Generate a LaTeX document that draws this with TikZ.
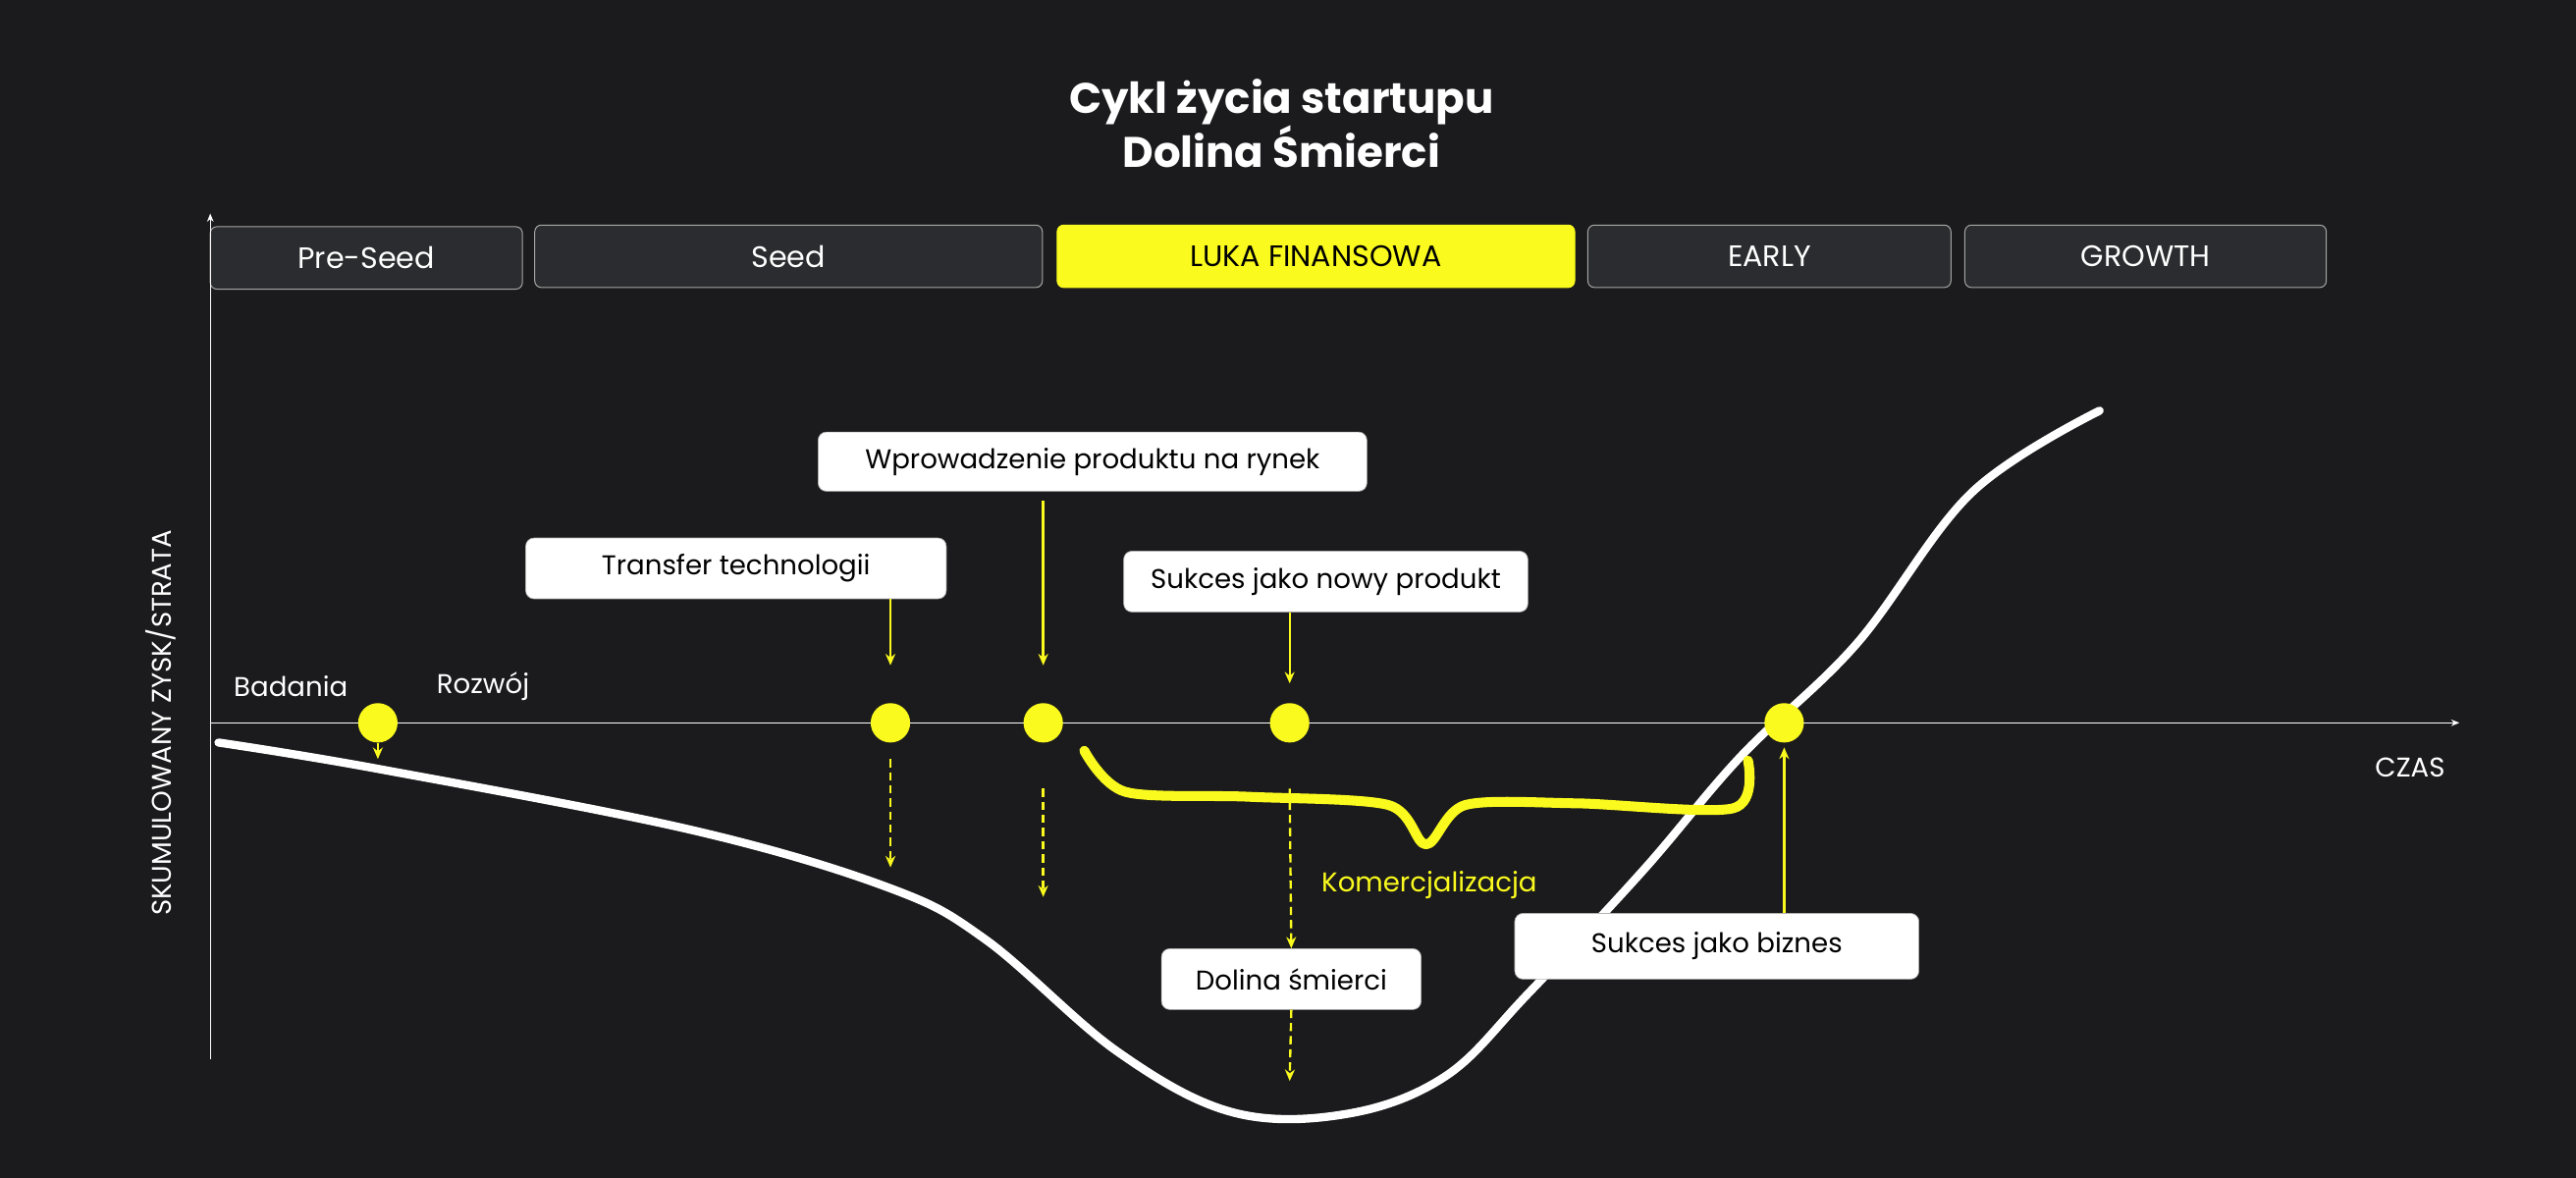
\documentclass[tikz,border=0pt]{standalone}
\usepackage{fontspec}
\setmainfont{Poppins}
\usetikzlibrary{arrows.meta}
\definecolor{bg}{HTML}{1B1B1D}
\definecolor{stg}{HTML}{2B2C2F}
\definecolor{yel}{HTML}{FAFA1E}
\begin{document}
\begin{tikzpicture}[x=1pt,y=-1pt,
 stage/.style={draw=gray!70,fill=stg,rounded corners=4pt,minimum height=38pt,text=white,font=\fontsize{18}{20}\selectfont,line width=0.6pt},
 lbl/.style={fill=white,draw=gray!60,rounded corners=5pt,minimum height=37pt,font=\fontsize{16.5}{18}\selectfont,text=black},
 yarr/.style={yel,line width=1.4pt,-{Stealth[length=7pt,width=6pt]}},
 ydash/.style={yarr,dash pattern=on 5pt off 3pt},
 dot/.style={circle,fill=yel,minimum size=24pt,inner sep=0pt}]
\fill[bg] (0,0) rectangle (1568,717);
\useasboundingbox (0,0) rectangle (1568,717);
\node[text=white,font=\fontsize{26}{33}\selectfont\bfseries,align=center] (title) at (780,75) {Cykl życia startupu\\Dolina Śmierci};
\node[stage,minimum width=190pt] (s1) at (223,157) {Pre-Seed};
\node[stage,minimum width=309pt] (s2) at (480,156) {Seed};
\node[stage,minimum width=315pt,fill=yel,draw=yel,text=black] (s3) at (801,156) {LUKA FINANSOWA};
\node[stage,minimum width=221pt] (s4) at (1077,156) {EARLY};
\node[stage,minimum width=220pt] (s5) at (1306,156) {GROWTH};
\coordinate (o) at (128,645); \coordinate (yt) at (128,130);
\coordinate (xo) at (128,440); \coordinate (xt) at (1497,440);
\draw[white,line width=0.6pt,-{Stealth[length=5pt,width=4pt]}] (o) -- (yt);
\draw[white,line width=0.6pt,-{Stealth[length=5pt,width=4pt]}] (xo) -- (xt);
\node[white,font=\fontsize{16.5}{18}\selectfont] (czas) at (1467,467) {CZAS};
\node[white,rotate=90,font=\fontsize{16.5}{18}\selectfont] (yl) at (98,440) {SKUMULOWANY ZYSK/STRATA};
\node[white,font=\fontsize{16.5}{18}\selectfont] (bad) at (177,418) {Badania};
\node[white,font=\fontsize{16.5}{18}\selectfont] (roz) at (294,418) {Rozwój};
\draw[white,line width=5pt,line cap=round,line join=round] plot[smooth,tension=0.6] coordinates {(133,452) (230,468) (420,505) (540,540) (600,572) (680,640) (750,677) (820,678) (880,655) (930,605) (1000,530) (1060,460) (1130,392) (1200,300) (1278,250)};
\draw[yel,line width=6pt,line cap=round,line join=round] plot[smooth,tension=0.5] coordinates {(660,457) (685,482) (760,485) (845,490) (868,514) (892,490) (960,489) (1055,492) (1064,463)};
\node[dot] (d1) at (230,440) {};
\node[dot] (d2) at (542,440) {};
\node[dot] (d3) at (635,440) {};
\node[dot] (d4) at (785,440) {};
\node[dot] (d5) at (1086,440) {};
\node[lbl,minimum width=256pt] (tt) at (448,346) {Transfer technologii};
\node[lbl,minimum width=334pt,minimum height=36pt] (wp) at (665,281) {Wprowadzenie produktu na rynek};
\node[lbl,minimum width=246pt] (sn) at (807,354) {Sukces jako nowy produkt};
\node[lbl,minimum width=158pt] (ds) at (786,596) {Dolina śmierci};
\node[lbl,minimum width=246pt,minimum height=40pt] (sb) at (1045,576) {Sukces jako biznes};
\node[yel,font=\fontsize{16.5}{18}\selectfont] (kom) at (870,539) {Komercjalizacja};
\coordinate (a1) at (542,405); \coordinate (a2) at (635,405); \coordinate (a3) at (785,416); \coordinate (a4) at (1086,455);
\draw[yarr] (tt.south -| a1) -- (a1);
\draw[yarr] (635,305) -- (a2);
\draw[yarr] (sn.south -| a3) -- (a3);
\draw[yarr] (sb.north -| a4) -- (a4);
\coordinate (e1) at (230,462); \coordinate (e2) at (542,528); \coordinate (e3) at (635,546); \coordinate (e4) at (785,658);
\draw[yarr] (d1.south) -- (e1);
\draw[ydash] (542,462) -- (e2);
\draw[ydash] (635,480) -- (e3);
\draw[ydash] (785,480) -- (ds.north);
\draw[ydash] (ds.south) -- (e4);
\end{tikzpicture}
\end{document}
